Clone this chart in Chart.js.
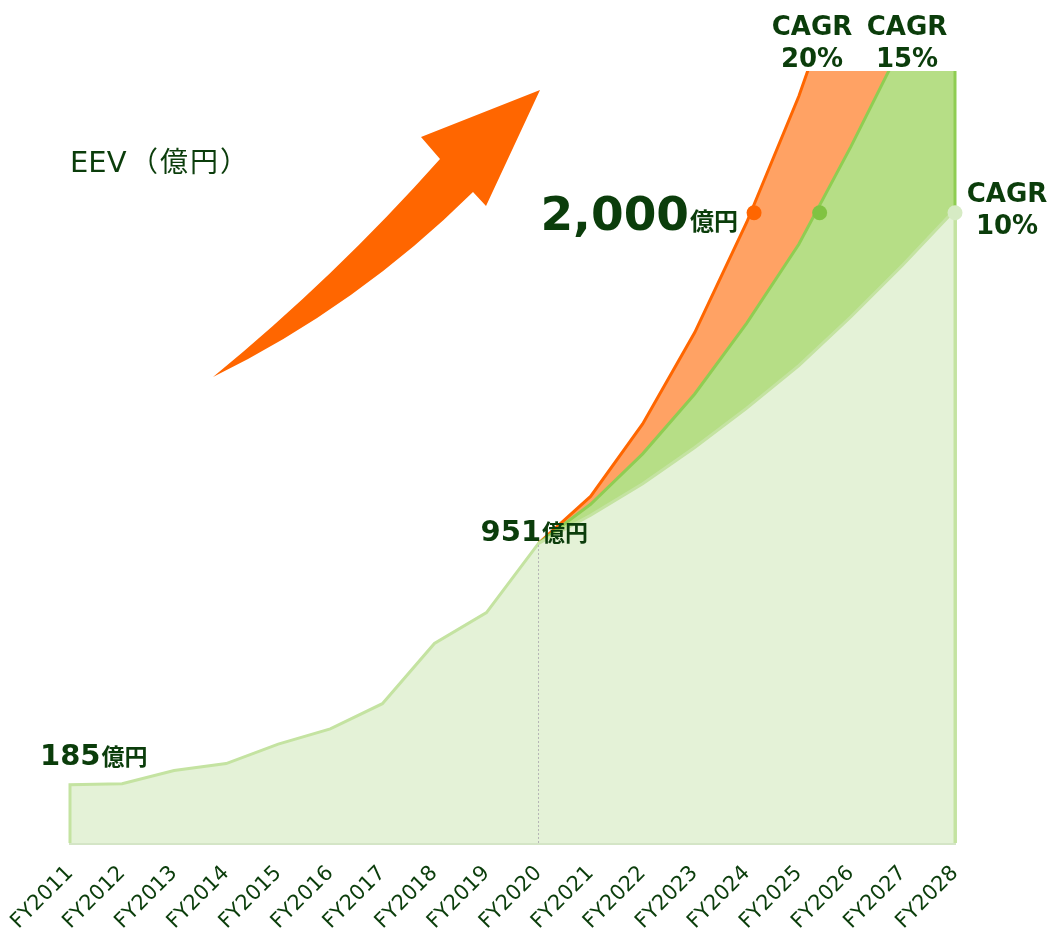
<!DOCTYPE html>
<html lang="ja">
<head>
<meta charset="utf-8">
<title>EEV</title>
<script src="https://cdn.jsdelivr.net/npm/chart.js@4.4.1/dist/chart.umd.min.js"></script>
<style>
  body { margin: 0; background: #fff; }
  canvas { display: block; }
</style>
</head>
<body>
<canvas id="eevChart" width="1050" height="932"></canvas>
<script>
// 実績 (億円)
const histYears = [2011, 2012, 2013, 2014, 2015, 2016, 2017, 2018, 2019, 2020]
const histValues = [185, 188, 230, 252, 314, 362, 442, 633, 731, 951]

// 計画 (CAGR別)
const planYears = [2020, 2021, 2022, 2023, 2024, 2025, 2026, 2027, 2028]
const cagr10 = [951, 1040, 1140, 1255, 1380, 1515, 1670, 1835, 2010]
const cagr15 = [951, 1075, 1235, 1425, 1650, 1900, 2210, 2540, 2920]
const cagr20 = [951, 1100, 1330, 1620, 1970, 2370, 2840, 3410, 4090]

// 2,000億円 到達点
const targetValue = 2000
const targetYears = [2024.14, 2025.4, 2028]

const tickLabels = ['FY2011', 'FY2012', 'FY2013', 'FY2014', 'FY2015', 'FY2016',
  'FY2017', 'FY2018', 'FY2019', 'FY2020', 'FY2021', 'FY2022', 'FY2023',
  'FY2024', 'FY2025', 'FY2026', 'FY2027', 'FY2028']

const darkGreen = '#0b3d0b'
const orange = '#ff6600'

const toPoints = (xs, ys) => xs.map((x, i) => ({ x: x, y: ys[i] }))
const firstYear = histYears[0]
const lastYear = planYears[planYears.length - 1]

// 10%: 実績 + 計画を一つの面に
const lightData = [{ x: firstYear, y: 0 }]
  .concat(toPoints(histYears, histValues))
  .concat(toPoints(planYears.slice(1), cagr10.slice(1)))
  .concat([{ x: lastYear, y: 0 }])
const midData = toPoints(planYears, cagr15).concat([{ x: lastYear, y: 0 }])
const topData = toPoints(planYears, cagr20)

const edgeClip = { left: 5, top: 0, right: 5, bottom: 5 }

const texts = {
  id: 'texts',
  afterDraw(chart) {
    const ctx = chart.ctx
    const xs = chart.scales.x
    const ys = chart.scales.y
    ctx.save()

    // 矢印
    ctx.fillStyle = orange
    ctx.beginPath()
    ctx.moveTo(213, 377)
    ctx.quadraticCurveTo(335, 277, 440, 159)
    ctx.lineTo(421, 137)
    ctx.lineTo(540, 90)
    ctx.lineTo(486, 206)
    ctx.lineTo(473, 192)
    ctx.quadraticCurveTo(358, 306, 213, 377)
    ctx.closePath()
    ctx.fill()

    // 単位
    ctx.fillStyle = darkGreen
    ctx.textBaseline = 'alphabetic'
    ctx.textAlign = 'left'
    ctx.font = '29px "DejaVu Sans"'
    ctx.fillText('EEV', 70, 172)
    ctx.textAlign = 'center'
    ctx.font = '28px "Noto Sans CJK JP"'
    const unitChars = ['（', '億', '円', '）']
    unitChars.forEach((c, i) => ctx.fillText(c, 144 + i * 30, 172))

    const numLabel = (num, numSize, unitSize, x, y) => {
      ctx.textAlign = 'left'
      ctx.font = 'bold ' + numSize + 'px "DejaVu Sans"'
      ctx.fillText(num, x, y)
      const w = ctx.measureText(num).width
      ctx.font = 'bold ' + unitSize + 'px "Noto Sans CJK JP"'
      ctx.fillText('億円', x + w + 1, y)
    }
    numLabel(String(histValues[0]), 29, 23, xs.getPixelForValue(firstYear) - 30, ys.getPixelForValue(histValues[0]) - 20)
    numLabel(String(histValues[9]), 29, 23, xs.getPixelForValue(2020) - 58, ys.getPixelForValue(histValues[9]) - 2)

    // 2,000億円 (右揃え)
    ctx.font = 'bold 24px "Noto Sans CJK JP"'
    const unitW = ctx.measureText('億円').width
    ctx.font = 'bold 47px "DejaVu Sans"'
    const numW = ctx.measureText('2,000').width
    const endX = xs.getPixelForValue(targetYears[0]) - 16
    const baseY = ys.getPixelForValue(targetValue) + 17
    numLabel('2,000', 47, 24, endX - unitW - numW - 1, baseY)

    ctx.textAlign = 'center'
    ctx.font = 'bold 26px "DejaVu Sans"'
    const cagr = (rate, x, y) => {
      ctx.fillText('CAGR', x, y)
      ctx.fillText(rate, x, y + 32)
    }
    cagr('20%', 812, 35)
    cagr('15%', 907, 35)
    cagr('10%', 1007, 202)
    ctx.restore()
  }
}

const ctx = document.getElementById('eevChart')
const eevChart = new Chart(ctx, {
  type: 'line',
  data: {
    datasets: [
      {
        // 到達点
        data: targetYears.map(x => ({ x: x, y: targetValue })),
        showLine: false,
        pointRadius: 7.5,
        pointHoverRadius: 7.5,
        pointBorderWidth: 0,
        pointBackgroundColor: [orange, '#80c342', '#d6ebc4'],
        clip: false
      },
      {
        // FY2020 区切り
        data: [{ x: 2020, y: 0 }, { x: 2020, y: histValues[9] }],
        borderColor: '#b5b5b5',
        borderWidth: 1,
        borderDash: [2, 2],
        pointRadius: 0,
        fill: false
      },
      {
        label: 'CAGR 10%',
        data: lightData,
        borderColor: '#c4e3a1',
        borderWidth: 3,
        backgroundColor: '#e4f2d7',
        fill: 'origin',
        pointRadius: 0,
        tension: 0,
        clip: edgeClip
      },
      {
        label: 'CAGR 15%',
        data: midData,
        borderColor: '#8fcd52',
        borderWidth: 3,
        backgroundColor: '#b6de86',
        fill: 'origin',
        pointRadius: 0,
        tension: 0,
        clip: edgeClip
      },
      {
        label: 'CAGR 20%',
        data: topData,
        borderColor: orange,
        borderWidth: 3,
        backgroundColor: '#ffa264',
        fill: 'origin',
        pointRadius: 0,
        tension: 0,
        clip: edgeClip
      }
    ]
  },
  options: {
    responsive: false,
    animation: false,
    events: [],
    layout: { padding: { left: 70, right: 95, top: 71, bottom: 0 } },
    plugins: {
      legend: { display: false },
      tooltip: { enabled: false }
    },
    scales: {
      x: {
        type: 'linear',
        min: firstYear,
        max: lastYear,
        z: 1,
        grid: { display: false, drawTicks: false },
        border: { display: true, color: '#d4e5c6', width: 3 },
        ticks: {
          stepSize: 1,
          autoSkip: false,
          minRotation: 45,
          maxRotation: 45,
          padding: 18,
          color: darkGreen,
          font: { family: '"DejaVu Sans"', size: 21 },
          callback: v => tickLabels[v - firstYear]
        },
        afterFit: scale => {
          scale.height = 89
          scale.paddingLeft = 0
          scale.paddingRight = 0
        }
      },
      y: {
        display: false,
        min: 0,
        max: 2450
      }
    }
  },
  plugins: [texts]
})
</script>
</body>
</html>
